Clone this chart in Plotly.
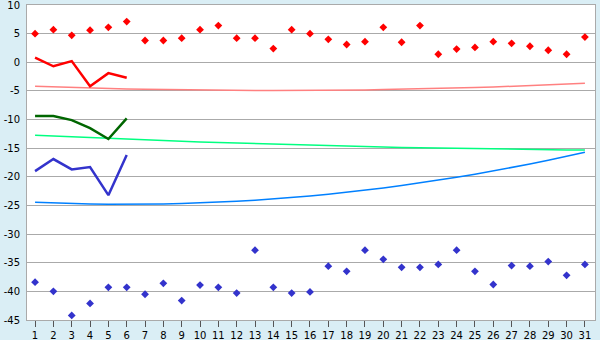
import plotly.graph_objects as go

days = list(range(1, 32))

red_points = [5.0, 5.7, 4.7, 5.6, 6.1, 7.1, 3.8, 3.8, 4.2, 5.7, 6.4, 4.2, 4.2, 2.4, 5.7, 5.0,
              4.0, 3.1, 3.6, 6.1, 3.5, 6.4, 1.4, 2.3, 2.6, 3.6, 3.3, 2.8, 2.1, 1.4, 4.4]
blue_points = [-38.4, -40.0, -44.2, -42.1, -39.3, -39.3, -40.5, -38.6, -41.6, -38.9, -39.3,
               -40.3, -32.8, -39.3, -40.3, -40.1, -35.6, -36.5, -32.8, -34.4, -35.8, -35.8,
               -35.3, -32.8, -36.5, -38.8, -35.5, -35.6, -34.8, -37.2, -35.3]

line_days = [1, 2, 3, 4, 5, 6]
red_line = [0.8, -0.7, 0.2, -4.2, -1.9, -2.7]
green_line = [-9.4, -9.4, -10.1, -11.5, -13.4, -9.8]
blue_line = [-19.0, -16.9, -18.7, -18.3, -23.2, -16.2]

pink_trend = [-4.20, -4.31, -4.41, -4.50, -4.58, -4.65, -4.72, -4.77, -4.82, -4.86, -4.89,
              -4.91, -4.93, -4.93, -4.93, -4.91, -4.89, -4.86, -4.82, -4.77, -4.72, -4.65,
              -4.58, -4.50, -4.41, -4.31, -4.20, -4.08, -3.96, -3.82, -3.68]
green_trend = [-12.75, -12.89, -13.03, -13.17, -13.30, -13.43, -13.55, -13.67, -13.79, -13.90,
               -14.01, -14.11, -14.21, -14.31, -14.40, -14.49, -14.57, -14.65, -14.73, -14.80,
               -14.87, -14.93, -14.99, -15.05, -15.10, -15.15, -15.19, -15.23, -15.27, -15.30,
               -15.33]
blue_trend = [-24.44, -24.57, -24.67, -24.74, -24.79, -24.80, -24.79, -24.74, -24.67, -24.57,
              -24.44, -24.28, -24.09, -23.87, -23.62, -23.35, -23.04, -22.71, -22.34, -21.95,
              -21.53, -21.08, -20.60, -20.09, -19.55, -18.99, -18.39, -17.77, -17.11, -16.43,
              -15.72]

y_ticks = [10, 5, 0, -5, -10, -15, -20, -25, -30, -35, -40, -45]
y_labels = ["10", "5", "0", "-5", "-10", "-15", "-20", "-25", "-30", "-35", "-40", "-45"]
x_labels = [str(d) for d in days]

fig = go.Figure()

fig.add_trace(go.Scatter(x=days, y=pink_trend, mode="lines",
                         line=dict(color="#ff8080", width=1.5)))
fig.add_trace(go.Scatter(x=days, y=green_trend, mode="lines",
                         line=dict(color="#00ff80", width=1.5)))
fig.add_trace(go.Scatter(x=days, y=blue_trend, mode="lines",
                         line=dict(color="#0080ff", width=1.5)))

fig.add_trace(go.Scatter(x=line_days, y=red_line, mode="lines",
                         line=dict(color="#ff0000", width=2.5)))
fig.add_trace(go.Scatter(x=line_days, y=green_line, mode="lines",
                         line=dict(color="#006600", width=2.5)))
fig.add_trace(go.Scatter(x=line_days, y=blue_line, mode="lines",
                         line=dict(color="#3333cc", width=2.5)))

fig.add_trace(go.Scatter(x=days, y=red_points, mode="markers",
                         marker=dict(symbol="diamond", size=6, color="#ff0000")))
fig.add_trace(go.Scatter(x=days, y=blue_points, mode="markers",
                         marker=dict(symbol="diamond", size=6, color="#3333cc")))

fig.update_layout(
    width=600, height=340,
    margin=dict(l=27, r=5, t=5, b=20),
    paper_bgcolor="#daeef5",
    plot_bgcolor="#ffffff",
    showlegend=False,
    font=dict(family="DejaVu Sans", size=10, color="#000000"),
)
fig.update_xaxes(
    range=[0.56, 31.55], tickvals=days, ticktext=x_labels,
    showgrid=False, zeroline=False, automargin=False, ticklabeloverflow="allow",
    showline=True, linecolor="#aaaaaa", linewidth=1, mirror=True,
    ticks="outside", ticklen=6, tickcolor="#555555", tickwidth=1,
)
fig.update_yaxes(
    range=[-45, 10], tickvals=y_ticks, ticktext=y_labels,
    showgrid=True, gridcolor="#aaaaaa", gridwidth=1, zeroline=False, automargin=False,
    ticklabeloverflow="allow",
    showline=True, linecolor="#aaaaaa", linewidth=1, mirror=True,
    ticks="", ticklabelstandoff=4,
)

fig.write_html("out.html")
